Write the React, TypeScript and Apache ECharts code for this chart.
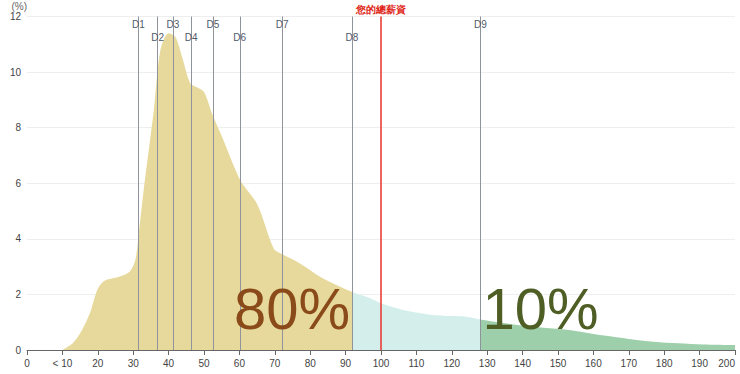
import React, { useEffect, useRef } from "react";
import * as echarts from "echarts";

// Density curve (salary in 10k units vs. share in %)
const salaryX = [10, 13, 15, 17, 18, 20, 22, 26, 29, 30.6, 31.5, 33, 35.8, 37.7, 40, 41.9, 43.8, 46.1, 48, 50, 52.3, 55, 60.3, 65, 69.7, 72, 77, 83, 88, 92, 97, 100, 106, 114, 120, 124, 128, 134, 140, 146, 153, 158, 163, 170, 177, 184, 191, 200];
const shareY = [0, 0.25, 0.6, 1.1, 1.4, 2.2, 2.5, 2.64, 2.82, 3.24, 4.1, 5.8, 8.6, 10.8, 11.4, 11.27, 10.55, 9.6, 9.45, 9.28, 8.5, 7.7, 6.1, 5.25, 3.65, 3.45, 3.12, 2.62, 2.3, 2.08, 1.86, 1.68, 1.45, 1.27, 1.22, 1.2, 1.1, 0.98, 0.88, 0.8, 0.72, 0.62, 0.52, 0.4, 0.3, 0.24, 0.2, 0.18];

const decileNames = ["D1", "D2", "D3", "D4", "D5", "D6", "D7", "D8", "D9"];
const decileValues = [31.5, 36.9, 41.2, 46.4, 52.5, 60.1, 72.1, 91.8, 128.1];

const yourSalary = 100;
const yourSalaryLabel = "您的總薪資";
const shareBelowLabel = "80%";
const shareAboveLabel = "10%";

const xTicks = { min: 0, max: 200, interval: 10 };
const yTicks = { min: 0, max: 12, interval: 2 };

const FONT = "'Liberation Sans', Arial, Helvetica, sans-serif";

export default function App() {
  const ref = useRef<HTMLDivElement>(null);

  useEffect(() => {
    if (!ref.current) return;
    const chart = echarts.init(ref.current, undefined, { renderer: "svg" });

    const d8 = decileValues[7];
    const d9 = decileValues[8];

    const decileLines = decileNames.map((name, i) => ({
      name,
      xAxis: decileValues[i],
      label: { distance: i % 2 === 0 ? -13 : -26 },
    }));

    chart.setOption({
      animation: false,
      textStyle: { fontFamily: FONT },
      grid: {
        left: 27,
        right: 5,
        top: 16.5,
        bottom: 24,
        containLabel: false,
        outerBoundsMode: "none",
      },
      visualMap: {
        type: "piecewise",
        show: false,
        dimension: 0,
        seriesIndex: 0,
        pieces: [
          { lte: d8, color: "#e6d99b" },
          { gt: d8, lte: d9, color: "#d4efeb" },
          { gt: d9, color: "#9dcfaa" },
        ],
      },
      xAxis: {
        type: "value",
        min: xTicks.min,
        max: xTicks.max,
        interval: xTicks.interval,
        axisLine: { show: true, lineStyle: { color: "#666" } },
        axisTick: { show: true, length: 5, lineStyle: { color: "#666" } },
        splitLine: { show: false },
        axisLabel: {
          fontSize: 10,
          color: "#444",
          margin: 8,
          alignMaxLabel: "right",
          formatter: (v: number) => (v === 10 ? "< 10" : String(v)),
        },
      },
      yAxis: {
        type: "value",
        min: yTicks.min,
        max: yTicks.max,
        interval: yTicks.interval,
        name: "(%)",
        nameLocation: "end",
        nameGap: 5,
        nameTextStyle: { fontSize: 10, color: "#666", align: "right" },
        axisLine: { show: false },
        axisTick: { show: false },
        splitLine: { lineStyle: { color: "#eeeeee" } },
        axisLabel: { fontSize: 10, color: "#444", margin: 6 },
      },
      series: [
        {
          type: "line",
          data: salaryX.map((x, i) => [x, shareY[i]]),
          smooth: 0.3,
          symbol: "none",
          lineStyle: { width: 0 },
          areaStyle: { opacity: 1 },
          z: 2,
          markLine: {
            silent: true,
            symbol: ["none", "none"],
            lineStyle: { color: "#8f949c", width: 1, type: "solid" },
            label: {
              show: true,
              position: "end",
              formatter: "{b}",
              fontSize: 10,
              color: "#4f5a6b",
              fontFamily: FONT,
            },
            data: [
              ...decileLines,
              {
                name: yourSalaryLabel,
                xAxis: yourSalary,
                lineStyle: { color: "#e8322a", width: 1.5 },
                label: {
                  distance: 2,
                  color: "#e0281a",
                  fontWeight: "bold",
                  fontSize: 10,
                },
              },
            ],
          },
          markPoint: {
            silent: true,
            symbol: "circle",
            symbolSize: 0,
            data: [
              {
                coord: [d8, 0],
                label: {
                  show: true,
                  formatter: shareBelowLabel,
                  position: "left",
                  distance: 2,
                  offset: [0, -42],
                  fontSize: 58,
                  color: "#8a4a1a",
                  fontFamily: FONT,
                },
              },
              {
                coord: [d9, 0],
                label: {
                  show: true,
                  formatter: shareAboveLabel,
                  position: "right",
                  distance: 2,
                  offset: [0, -42],
                  fontSize: 58,
                  color: "#4e5e24",
                  fontFamily: FONT,
                },
              },
            ],
          },
        },
      ],
    });

    return () => chart.dispose();
  }, []);

  return (
    <div
      ref={ref}
      style={{ position: "absolute", left: 0, top: 0, width: 740, height: 374 }}
    />
  );
}
